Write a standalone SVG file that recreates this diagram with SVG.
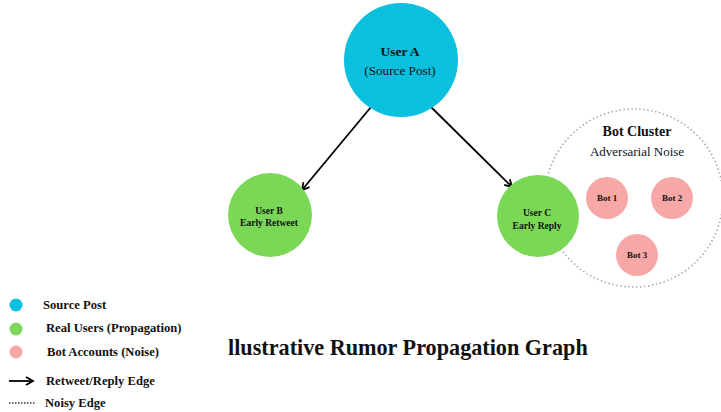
<svg xmlns="http://www.w3.org/2000/svg" width="721" height="412" viewBox="0 0 721 412">
<defs>
<marker id="ah" markerWidth="10" markerHeight="10" refX="8" refY="5" orient="auto" markerUnits="userSpaceOnUse">
<path d="M1,1 L8,5 L1,9" fill="none" stroke="#000" stroke-width="1.8"/>
</marker>
<style>
text{font-family:"Liberation Serif","Times New Roman",serif;fill:#111}
.b{font-weight:bold}
.src{fill:#0bbfdf}
.real{fill:#7bd857}
.bot{fill:#f8a7a7}
.edge{stroke:#000;stroke-width:1.8;fill:none}
.noisy{stroke:#aaa;stroke-width:1.6;fill:none;stroke-dasharray:1.5 2.5}
.lg{font-weight:bold;font-size:12.6px}
</style>
</defs>
<rect width="721" height="412" fill="#fff"/>
<g id="bot-cluster">
<circle cx="634" cy="198" r="89" class="noisy"/>
<text x="637" y="136" text-anchor="middle" class="b" font-size="14">Bot Cluster</text>
<text x="637" y="156" text-anchor="middle" font-size="13">Adversarial Noise</text>
</g>
<g id="connectors">
<line x1="371" y1="107" x2="302" y2="190" class="edge" marker-end="url(#ah)"/>
<line x1="431" y1="107" x2="512" y2="187" class="edge" marker-end="url(#ah)"/>
</g>
<g id="userA">
<circle cx="401" cy="60" r="57" class="src"/>
<text x="400" y="56" text-anchor="middle" class="b" font-size="13.5">User A</text>
<text x="400" y="75" text-anchor="middle" font-size="13.2">(Source Post)</text>
</g>
<g id="userB">
<circle cx="270" cy="215" r="42" class="real"/>
<text x="269" y="214" text-anchor="middle" class="b" font-size="9.5">User B</text>
<text x="269" y="226" text-anchor="middle" class="b" font-size="9.5">Early Retweet</text>
</g>
<g id="userC">
<circle cx="538" cy="216" r="41" class="real"/>
<text x="537" y="216" text-anchor="middle" class="b" font-size="9.5">User C</text>
<text x="537" y="229" text-anchor="middle" class="b" font-size="9.5">Early Reply</text>
</g>
<g id="bot1">
<circle cx="607" cy="198" r="21" class="bot"/>
<text x="607" y="201" text-anchor="middle" class="b" font-size="9">Bot 1</text>
</g>
<g id="bot2">
<circle cx="672" cy="198" r="21" class="bot"/>
<text x="672" y="201" text-anchor="middle" class="b" font-size="9">Bot 2</text>
</g>
<g id="bot3">
<circle cx="637" cy="255" r="21" class="bot"/>
<text x="637" y="258" text-anchor="middle" class="b" font-size="9">Bot 3</text>
</g>
<g id="title">
<text x="228" y="355" class="b" font-size="22.2">llustrative Rumor Propagation Graph</text>
</g>
<g id="legend">
<circle cx="16" cy="305" r="6.5" class="src"/>
<text x="43" y="309" class="lg">Source Post</text>
<circle cx="16" cy="329" r="6.5" class="real"/>
<text x="46" y="332" class="lg">Real Users (Propagation)</text>
<circle cx="16" cy="352" r="6.5" class="bot"/>
<text x="47" y="356" class="lg">Bot Accounts (Noise)</text>
<line x1="9" y1="381" x2="33" y2="381" class="edge" marker-end="url(#ah)" stroke-width="1.5"/>
<text x="46" y="385" class="lg">Retweet/Reply Edge</text>
<line x1="9" y1="403" x2="35" y2="403" stroke="#333" stroke-width="1.6" stroke-dasharray="1.5 1.5"/>
<text x="45" y="407" class="lg">Noisy Edge</text>
</g>
</svg>
